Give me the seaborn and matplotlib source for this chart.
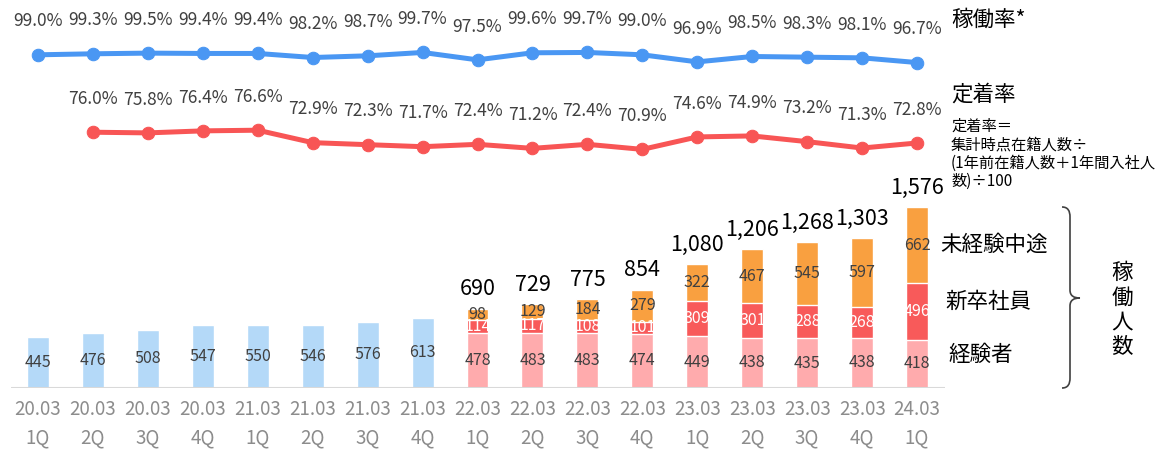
import numpy as np
import pandas as pd
import matplotlib.pyplot as plt
from matplotlib.path import Path
from matplotlib.patches import PathPatch
import seaborn as sns

# data
periods = ['20.03', '20.03', '20.03', '20.03', '21.03', '21.03', '21.03', '21.03',
           '22.03', '22.03', '22.03', '22.03', '23.03', '23.03', '23.03', '23.03', '24.03']
quarters = ['1Q', '2Q', '3Q', '4Q', '1Q', '2Q', '3Q', '4Q',
            '1Q', '2Q', '3Q', '4Q', '1Q', '2Q', '3Q', '4Q', '1Q']
experienced = [445, 476, 508, 547, 550, 546, 576, 613,
               478, 483, 483, 474, 449, 438, 435, 438, 418]
new_grad = [np.nan] * 8 + [114, 117, 108, 101, 309, 301, 288, 268, 496]
mid_career = [np.nan] * 8 + [98, 129, 184, 279, 322, 467, 545, 597, 662]
utilization = [99.0, 99.3, 99.5, 99.4, 99.4, 98.2, 98.7, 99.7, 97.5,
               99.6, 99.7, 99.0, 96.9, 98.5, 98.3, 98.1, 96.7]
retention = [np.nan, 76.0, 75.8, 76.4, 76.6, 72.9, 72.3, 71.7, 72.4,
             71.2, 72.4, 70.9, 74.6, 74.9, 73.2, 71.3, 72.8]

labels = [f'{p}\n{q}' for p, q in zip(periods, quarters)]
df = pd.DataFrame({'label': labels, 'exp': experienced, 'new': new_grad, 'mid': mid_career})
df['pos'] = np.arange(len(df))
df['exp_new'] = df['exp'] + df['new'].fillna(0)
df['total'] = df['exp_new'] + df['mid'].fillna(0)

BLUE_BAR = '#B4D9F8'
PINK = '#FFABAD'
RED = '#F85A5A'
ORANGE = '#F9A040'
BLUE_LINE = '#4A97F3'
RED_LINE = '#F85555'
GRAY = '#404040'

sns.set_style('white')
plt.rcParams['font.family'] = ['Noto Sans CJK JP', 'DejaVu Sans']

W, H = 1169, 453
fig = plt.figure(figsize=(W / 100, H / 100), dpi=100)
ax = fig.add_axes([10.5 / W, 1 - 388 / H, 934 / W, 348 / H])

# stacked bars, drawn as overlapping cumulative layers
sns.barplot(data=df, x='pos', y='total', color=ORANGE, width=0.4, saturation=1, ax=ax)
sns.barplot(data=df, x='pos', y='exp_new', color=RED, width=0.4, saturation=1, ax=ax)
base_colors = [BLUE_BAR] * 8 + [PINK] * 9
sns.barplot(data=df, x='pos', y='exp', hue='pos', palette=base_colors, width=0.4,
            saturation=1, legend=False, ax=ax)

ax.set_ylim(0, 3030)
ax.set_xlim(-0.5, 16.5)
ax.axhline(0, color='#D9D9D9', lw=2.2, zorder=5)
for s in ax.spines.values():
    s.set_visible(False)
ax.set_yticks([])
ax.set_ylabel('')
ax.set_xlabel('')
ax.set_xticks(df['pos'])
ax.set_xticklabels(labels, color='#8C8C8C', fontsize=13.5, linespacing=1.45)
ax.tick_params(axis='x', length=0, pad=8)

# segment labels
for i, r in df.iterrows():
    ax.text(i, r['exp'] / 2, f"{r['exp']}", ha='center', va='center', fontsize=11.5, color=GRAY)
    if not np.isnan(r['new']):
        ax.text(i, r['exp'] + r['new'] / 2, f"{int(r['new'])}", ha='center', va='center',
                fontsize=11.5, color='white')
        ax.text(i, r['exp_new'] + r['mid'] / 2, f"{int(r['mid'])}", ha='center', va='center',
                fontsize=11.5, color=GRAY)
        ax.annotate(f"{int(r['total']):,}", (i, r['total']), xytext=(0, 14), textcoords='offset points',
                    ha='center', va='center', fontsize=15.5, color='black')

# rate lines
ax2 = ax.twinx()
ax2.set_ylim(0, 103.4)
rates = pd.DataFrame({'pos': df['pos'], 'util': utilization, 'ret': retention})
sns.lineplot(data=rates, x='pos', y='util', color=BLUE_LINE, lw=3.6, marker='o', markersize=9,
             markeredgecolor=BLUE_LINE, ax=ax2)
sns.lineplot(data=rates.dropna(), x='pos', y='ret', color=RED_LINE, lw=3.6, marker='o', markersize=9,
             markeredgecolor=RED_LINE, ax=ax2)
for i, (u, rt) in enumerate(zip(utilization, retention)):
    ax2.annotate(f'{u:.1f}%', (i, u), xytext=(0, 24), textcoords='offset points',
                 ha='center', va='center', fontsize=12.5, color=GRAY)
    if not np.isnan(rt):
        ax2.annotate(f'{rt:.1f}%', (i, rt), xytext=(0, 24), textcoords='offset points',
                     ha='center', va='center', fontsize=12.5, color=GRAY)
ax2.set_yticks([])
ax2.set_ylabel('')
ax2.set_xlabel('')
for s in ax2.spines.values():
    s.set_visible(False)
ax2.set_xlim(-0.5, 16.5)

# right side annotations
def fx(x):
    return x / W

def fy(y):
    return 1 - y / H

fig.text(fx(951), fy(20), '稼働率*', fontsize=15.5, color='black', va='center')
fig.text(fx(951), fy(95), '定着率', fontsize=15.5, color='black', va='center')
fig.text(fx(951), fy(118), '定着率＝\n集計時点在籍人数÷\n(1年前在籍人数＋1年間入社人\n数)÷100',
         fontsize=11, color='black', va='top', linespacing=1.1)
fig.text(fx(940), fy(245), '未経験中途', fontsize=15.5, color='black', va='center')
fig.text(fx(945), fy(302), '新卒社員', fontsize=15.5, color='black', va='center')
fig.text(fx(948), fy(355), '経験者', fontsize=15.5, color='black', va='center')
fig.text(fx(1122), fy(310), '稼\n働\n人\n数', fontsize=15.5, color='black', ha='center', va='center',
         linespacing=1.15)

# curly brace
pts = [(1062, 207), (1068, 207), (1070, 211), (1070, 217),
       (1070, 290),
       (1070, 296), (1074, 298), (1080, 298),
       (1074, 298), (1070, 300), (1070, 306),
       (1070, 378),
       (1070, 384), (1068, 388), (1062, 388)]
codes = [Path.MOVETO, Path.CURVE4, Path.CURVE4, Path.CURVE4,
         Path.LINETO,
         Path.CURVE4, Path.CURVE4, Path.CURVE4,
         Path.CURVE4, Path.CURVE4, Path.CURVE4,
         Path.LINETO,
         Path.CURVE4, Path.CURVE4, Path.CURVE4]
brace = Path([(fx(x), fy(y)) for x, y in pts], codes)
fig.patches.append(PathPatch(brace, transform=fig.transFigure, fill=False, lw=1.2, color='#404040'))

fig.savefig('out.png', dpi=100)
